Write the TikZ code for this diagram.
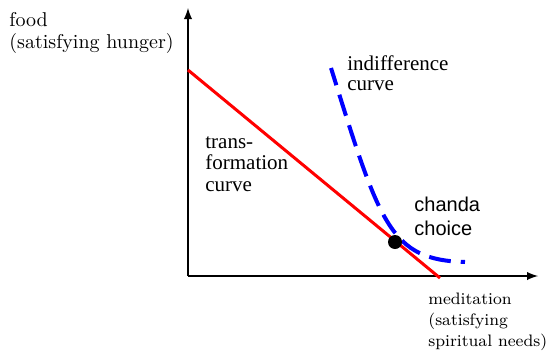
\documentclass[tikz,border=0pt]{standalone}
\usepackage{fontspec}
\newfontfamily\timesfont{Liberation Serif}
\newfontfamily\arialfont{Liberation Sans}
\usetikzlibrary{positioning}

\begin{document}
\begin{tikzpicture}[x=0.5pt, y=-0.5pt, >=latex,
  axis/.style={line width=0.9pt, ->},
  lbl/.style={inner sep=0pt, align=left, anchor=north west}]
  \useasboundingbox (0,0) rectangle (546,354);

  % Achsen
  \coordinate (O) at (188,276);
  \coordinate (ytop) at (188,8);
  \coordinate (xend) at (538,276);
  \draw[axis] (O) -- (ytop);
  \draw[axis] (O) -- (xend);

  \node[lbl, font=\fontsize{10}{11}\selectfont] (foodlbl) at (9,12)
    {food\\(satisfying hunger)};
  \node[lbl, font=\fontsize{8.3}{10.3}\selectfont] (medlbl) at (428,293)
    {meditation\\(satisfying\\spiritual needs)};

  % Transformationskurve
  \coordinate (tA) at (188,70);
  \coordinate (tB) at (440,278);
  \draw[red, line width=1.5pt] (tA) -- (tB);
  \node[lbl, font=\timesfont\fontsize{10.5}{10.8}\selectfont] (translbl) at (205,136)
    {trans-\\formation\\curve};

  % Indifferenzkurve
  \coordinate (iA) at (331,68);
  \coordinate (iB) at (465,262);
  \draw[blue, line width=2pt, dash pattern=on 11pt off 5pt, dash phase=2pt]
    (iA) .. controls (380,225) and (390,260) .. (iB);
  \node[lbl, font=\timesfont\fontsize{10.5}{10}\selectfont] (indlbl) at (347,55)
    {indifference\\curve};

  % Wahl
  \node[circle, fill=black, minimum size=7pt, inner sep=0pt] (choice) at (395,242) {};
  \node[lbl, font=\arialfont\fontsize{10}{12}\selectfont] (choicelbl) at (414,197)
    {chanda\\choice};
\end{tikzpicture}
\end{document}
